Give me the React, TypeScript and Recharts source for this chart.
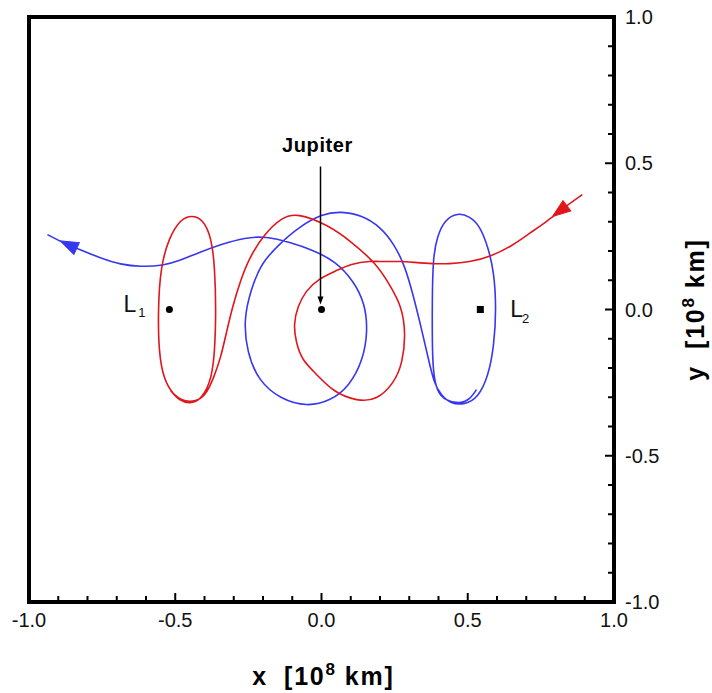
import { ComposedChart, Label, Line, ReferenceArea, Scatter, XAxis, YAxis } from "recharts";

// Both axes share the same tick set: minor every 0.1, labelled every 0.5
const axisTicks = [-1.0, -0.9, -0.8, -0.7, -0.6, -0.5, -0.4, -0.3, -0.2, -0.1, 0.0, 0.1, 0.2, 0.3, 0.4, 0.5, 0.6, 0.7, 0.8, 0.9, 1.0];
const majorTicks = [-1.0, -0.5, 0.0, 0.5, 1.0];
const majorLabels = ["-1.0", "-0.5", "0.0", "0.5", "1.0"];

// incoming trajectory (red): arrives from the upper right, loops Jupiter, ends circling L1
const redPath = [
  { x: 0.892, y: 0.393 }, { x: 0.831, y: 0.349 }, { x: 0.773, y: 0.304 }, { x: 0.711, y: 0.26 },
  { x: 0.65, y: 0.219 }, { x: 0.581, y: 0.185 }, { x: 0.506, y: 0.164 }, { x: 0.438, y: 0.157 },
  { x: 0.379, y: 0.157 }, { x: 0.318, y: 0.161 }, { x: 0.267, y: 0.164 }, { x: 0.215, y: 0.164 },
  { x: 0.164, y: 0.164 }, { x: 0.103, y: 0.154 }, { x: 0.051, y: 0.133 }, { x: -0.007, y: 0.103 },
  { x: -0.051, y: 0.062 }, { x: -0.079, y: 0.01 }, { x: -0.092, y: -0.051 }, { x: -0.085, y: -0.113 },
  { x: -0.062, y: -0.171 }, { x: -0.017, y: -0.222 }, { x: 0.044, y: -0.277 }, { x: 0.12, y: -0.308 },
  { x: 0.188, y: -0.301 }, { x: 0.243, y: -0.25 }, { x: 0.274, y: -0.178 }, { x: 0.284, y: -0.085 },
  { x: 0.27, y: 0.007 }, { x: 0.232, y: 0.085 }, { x: 0.181, y: 0.157 }, { x: 0.103, y: 0.229 },
  { x: 0.017, y: 0.287 }, { x: -0.075, y: 0.321 }, { x: -0.137, y: 0.308 }, { x: -0.195, y: 0.253 },
  { x: -0.243, y: 0.178 }, { x: -0.277, y: 0.096 }, { x: -0.304, y: 0.007 }, { x: -0.325, y: -0.079 },
  { x: -0.345, y: -0.161 }, { x: -0.369, y: -0.232 }, { x: -0.397, y: -0.287 }, { x: -0.431, y: -0.311 },
  { x: -0.468, y: -0.311 }, { x: -0.506, y: -0.287 }, { x: -0.537, y: -0.232 }, { x: -0.554, y: -0.137 },
  { x: -0.557, y: 0.0 }, { x: -0.547, y: 0.137 }, { x: -0.52, y: 0.239 }, { x: -0.482, y: 0.301 },
  { x: -0.444, y: 0.318 }, { x: -0.407, y: 0.301 }, { x: -0.379, y: 0.239 }, { x: -0.366, y: 0.137 },
  { x: -0.362, y: 0.0 }, { x: -0.366, y: -0.137 }, { x: -0.379, y: -0.232 }, { x: -0.407, y: -0.294 },
  { x: -0.444, y: -0.318 }, { x: -0.485, y: -0.308 }, { x: -0.516, y: -0.277 },
];

// outgoing trajectory (blue): leaves the L2 orbit, loops Jupiter, escapes to the left
const bluePath = [
  { x: 0.53, y: -0.274 }, { x: 0.506, y: -0.304 }, { x: 0.472, y: -0.318 }, { x: 0.427, y: -0.308 },
  { x: 0.397, y: -0.274 }, { x: 0.383, y: -0.205 }, { x: 0.379, y: -0.103 }, { x: 0.379, y: 0.034 },
  { x: 0.383, y: 0.164 }, { x: 0.397, y: 0.246 }, { x: 0.424, y: 0.301 }, { x: 0.465, y: 0.325 },
  { x: 0.506, y: 0.315 }, { x: 0.54, y: 0.28 }, { x: 0.568, y: 0.212 }, { x: 0.588, y: 0.12 },
  { x: 0.595, y: 0.0 }, { x: 0.588, y: -0.12 }, { x: 0.568, y: -0.222 }, { x: 0.533, y: -0.294 },
  { x: 0.489, y: -0.321 }, { x: 0.444, y: -0.318 }, { x: 0.41, y: -0.291 }, { x: 0.386, y: -0.246 },
  { x: 0.366, y: -0.171 }, { x: 0.342, y: -0.068 }, { x: 0.315, y: 0.041 }, { x: 0.284, y: 0.144 },
  { x: 0.246, y: 0.222 }, { x: 0.198, y: 0.28 }, { x: 0.137, y: 0.318 }, { x: 0.068, y: 0.332 },
  { x: 0.0, y: 0.321 }, { x: -0.075, y: 0.28 }, { x: -0.144, y: 0.222 }, { x: -0.202, y: 0.154 },
  { x: -0.239, y: 0.068 }, { x: -0.26, y: -0.034 }, { x: -0.25, y: -0.144 }, { x: -0.209, y: -0.239 },
  { x: -0.137, y: -0.301 }, { x: -0.051, y: -0.325 }, { x: 0.027, y: -0.308 }, { x: 0.092, y: -0.256 },
  { x: 0.137, y: -0.171 }, { x: 0.154, y: -0.075 }, { x: 0.144, y: 0.017 }, { x: 0.106, y: 0.096 },
  { x: 0.044, y: 0.161 }, { x: -0.031, y: 0.202 }, { x: -0.109, y: 0.229 }, { x: -0.188, y: 0.246 },
  { x: -0.263, y: 0.243 }, { x: -0.342, y: 0.222 }, { x: -0.417, y: 0.195 }, { x: -0.485, y: 0.168 },
  { x: -0.544, y: 0.152 }, { x: -0.617, y: 0.148 }, { x: -0.687, y: 0.156 }, { x: -0.756, y: 0.177 },
  { x: -0.827, y: 0.205 }, { x: -0.889, y: 0.232 }, { x: -0.937, y: 0.256 },
];

const redArrow = [{ x: 0.817, y: 0.338 }];
const blueArrow = [{ x: -0.862, y: 0.22 }];

const lagrangePoints = [
  { name: "L", sub: "1", x: -0.52, y: 0 },
  { name: "L", sub: "2", x: 0.543, y: 0 },
];
const jupiter = [{ name: "Jupiter", x: 0, y: 0 }];

const RED = "#e0161c";
const BLUE = "#3737f2";
const FONT = "'Liberation Sans', Arial, Helvetica, sans-serif";

const W = 712;
const H = 693;
const margin = { top: 17, right: 0, bottom: 0, left: 29 };
const X_AXIS_H = 91;
const Y_AXIS_W = 98;
const PLOT = 585;

function labelFor(v: number) {
  const i = majorTicks.findIndex((m) => Math.abs(m - v) < 1e-6);
  return i >= 0 ? majorLabels[i] : null;
}

function XTick(props: any) {
  const { x, y, payload } = props;
  const label = labelFor(payload.value);
  const len = label ? 9 : 6;
  return (
    <g>
      <line x1={x} y1={y} x2={x} y2={y - len} stroke="#000" strokeWidth={2} />
      {label && (
        <text x={x} y={y + 25} textAnchor="middle" fontFamily={FONT} fontSize={20} fill="#111">
          {label}
        </text>
      )}
    </g>
  );
}

function YTick(props: any) {
  const { x, y, payload } = props;
  const label = labelFor(payload.value);
  const len = label ? 9 : 6;
  return (
    <g>
      <line x1={x} y1={y} x2={x - len} y2={y} stroke="#000" strokeWidth={2} />
      {label && (
        <text x={x + 11} y={y + 7} textAnchor="start" fontFamily={FONT} fontSize={20} fill="#111">
          {label}
        </text>
      )}
    </g>
  );
}

function AxisTitle({ axis }: { axis: string }) {
  return (
    <>
      <tspan>{axis}</tspan>
      <tspan dx={16}>[10</tspan>
      <tspan dy={-10} fontSize={17}>8</tspan>
      <tspan dx={8} dy={10}>km]</tspan>
    </>
  );
}

// axis titles are placed against the fixed plot box
function XTitle() {
  const cx = margin.left + PLOT / 2 + 2;
  const by = margin.top + PLOT + 83;
  return (
    <text x={cx} y={by} textAnchor="middle" fontFamily={FONT} fontWeight="bold" fontSize={25} letterSpacing={1.8} fill="#000">
      <AxisTitle axis="x" />
    </text>
  );
}

function YTitle() {
  const tx = margin.left + PLOT + 90;
  const ty = margin.top + PLOT / 2;
  return (
    <text
      x={tx}
      y={ty}
      transform={`rotate(-90 ${tx} ${ty})`}
      textAnchor="middle"
      fontFamily={FONT}
      fontWeight="bold"
      fontSize={25}
      letterSpacing={1.8}
      fill="#000"
    >
      <AxisTitle axis="y" />
    </text>
  );
}

// heading of the path at the point nearest to p, in screen degrees
function headingAt(path: { x: number; y: number }[], p: { x: number; y: number }) {
  let best = 0;
  let bestD = Infinity;
  path.forEach((q, i) => {
    const d = (q.x - p.x) ** 2 + (q.y - p.y) ** 2;
    if (d < bestD) {
      bestD = d;
      best = i;
    }
  });
  const a = path[Math.max(0, best - 1)];
  const b = path[Math.min(path.length - 1, best + 1)];
  return (Math.atan2(-(b.y - a.y), b.x - a.x) * 180) / Math.PI;
}

function arrowShape(path: { x: number; y: number }[], color: string) {
  return (props: any) => {
    const { cx, cy, payload } = props;
    const deg = headingAt(path, payload);
    return (
      <polygon
        points="10,0 -8,-6.5 -8,6.5"
        transform={`translate(${cx} ${cy}) rotate(${deg})`}
        fill={color}
        stroke={color}
        strokeWidth={1}
      />
    );
  };
}

function LagrangeMark(props: any) {
  const { cx, cy, payload } = props;
  const left = payload.x < 0;
  return (
    <g>
      {left ? (
        <circle cx={cx} cy={cy} r={3.5} fill="#000" />
      ) : (
        <rect x={cx - 3.5} y={cy - 3.5} width={7} height={7} fill="#000" />
      )}
      <text
        x={left ? cx - 46 : cx + 30}
        y={left ? cy + 2 : cy + 7}
        fontFamily={FONT}
        fontSize={23}
        fill="#111"
      >
        {payload.name}
        <tspan dx={left ? 2 : -1} dy={left ? 5 : 6} fontSize={13}>
          {payload.sub}
        </tspan>
      </text>
    </g>
  );
}

function JupiterMark(props: any) {
  const { cx, cy, payload } = props;
  const ax = cx - 1;
  return (
    <g>
      <text x={cx - 4} y={cy - 158} textAnchor="middle" fontFamily={FONT} fontWeight="bold" fontSize={20} letterSpacing={0.6} fill="#000">
        {payload.name}
      </text>
      <line x1={ax} y1={cy - 143} x2={ax} y2={cy - 10} stroke="#000" strokeWidth={1.5} />
      <polygon points={`${ax - 3},${cy - 13} ${ax + 3},${cy - 13} ${ax},${cy - 5}`} fill="#000" />
      <circle cx={cx} cy={cy} r={3.5} fill="#000" />
    </g>
  );
}

export default function App() {
  return (
    <div style={{ position: "fixed", left: 0, top: 0, width: W, height: H, overflow: "hidden", background: "#fff" }}>
      <ComposedChart width={W} height={H} margin={margin}>
        <XAxis
          type="number"
          dataKey="x"
          domain={[-1, 1]}
          ticks={axisTicks}
          interval={0}
          allowDataOverflow
          axisLine={false}
          tickLine={false}
          tickSize={0}
          tickMargin={0}
          tick={XTick}
          height={X_AXIS_H}
        >
          <Label content={XTitle} />
        </XAxis>
        <YAxis
          type="number"
          dataKey="y"
          orientation="right"
          domain={[-1, 1]}
          ticks={axisTicks}
          interval={0}
          allowDataOverflow
          axisLine={false}
          tickLine={false}
          tickSize={0}
          tickMargin={0}
          tick={YTick}
          width={Y_AXIS_W}
        >
          <Label content={YTitle} />
        </YAxis>
        <ReferenceArea x1={-1} x2={1} y1={-1} y2={1} fill="none" fillOpacity={0} stroke="#000" strokeWidth={4} ifOverflow="visible" />
        <Line data={bluePath} dataKey="y" type="natural" stroke={BLUE} strokeWidth={1.6} dot={false} activeDot={false} isAnimationActive={false} />
        <Line data={redPath} dataKey="y" type="natural" stroke={RED} strokeWidth={1.6} dot={false} activeDot={false} isAnimationActive={false} />
        <Scatter data={blueArrow} dataKey="y" shape={arrowShape(bluePath, BLUE)} isAnimationActive={false} />
        <Scatter data={redArrow} dataKey="y" shape={arrowShape(redPath, RED)} isAnimationActive={false} />
        <Scatter data={lagrangePoints} dataKey="y" shape={LagrangeMark} isAnimationActive={false} />
        <Scatter data={jupiter} dataKey="y" shape={JupiterMark} isAnimationActive={false} />
      </ComposedChart>
    </div>
  );
}
